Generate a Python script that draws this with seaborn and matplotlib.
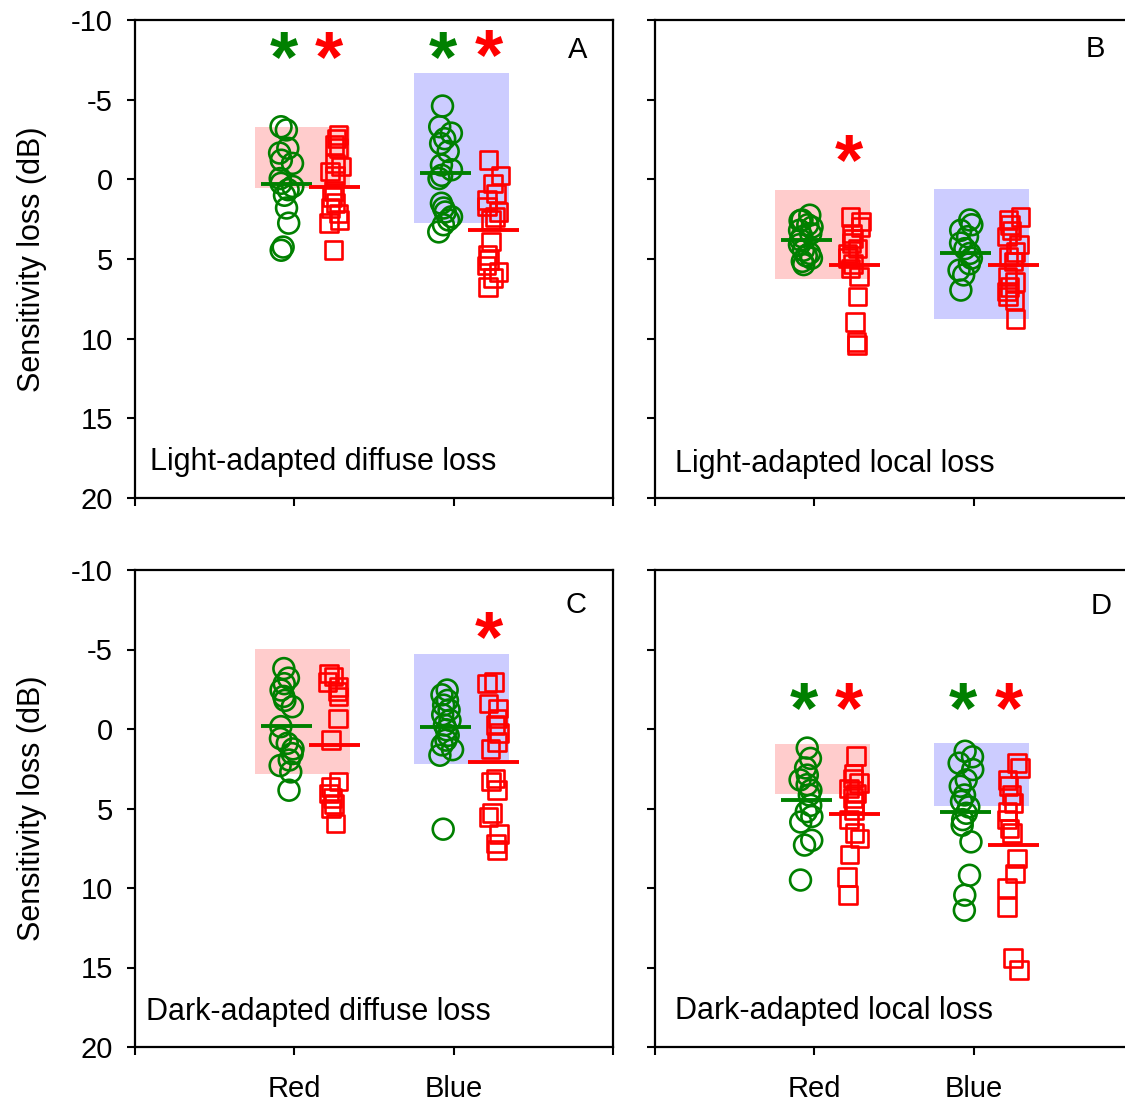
import numpy as np
import pandas as pd
import matplotlib
matplotlib.use("Agg")
import matplotlib.pyplot as plt
import matplotlib.transforms as mtransforms
import seaborn as sns

# ---------------- data (dB sensitivity loss) ----------------
categories = ["Red", "Blue"]
panel_ids = ["A", "B", "C", "D"]
panel_titles = ["Light-adapted diffuse loss", "Light-adapted local loss",
                "Dark-adapted diffuse loss", "Dark-adapted local loss"]

# circles (green) and squares (red) for Red and Blue stimuli
A_red_circ = [-3.3, -3.1, -1.95, -1.65, -1.2, -1.0, -0.05, 0.25, 0.45, 0.65, 1.0, 1.8, 2.75, 4.25, 4.45]
A_red_sq = [-2.8, -2.55, -2.15, -1.95, -1.0, -0.8, -0.5, -0.25, 0.75, 1.1, 1.5, 1.8, 2.15, 2.55, 2.75, 4.45]
A_blue_circ = [-4.6, -3.3, -2.9, -2.55, -2.25, -1.75, -0.9, -0.6, -0.25, -0.05,
               1.5, 1.8, 2.05, 2.35, 2.55, 2.85, 3.3]
A_blue_sq = [-1.2, -0.25, 0.25, 0.9, 1.3, 1.7, 2.05, 2.35, 2.55, 3.9, 4.75, 5.05, 5.4, 5.8, 6.2, 6.75]

B_red_circ = [2.25, 2.55, 2.6, 2.85, 3.0, 3.2, 3.4, 3.6, 3.8, 4.1, 4.45, 4.65, 4.8, 4.95, 5.15, 5.35]
B_red_sq = [2.35, 2.65, 3.0, 3.4, 3.7, 4.0, 4.35, 4.65, 4.95, 5.3, 5.6, 6.1, 7.35, 8.95, 10.2, 10.4]
B_blue_circ = [2.55, 2.85, 3.2, 3.6, 4.0, 4.35, 4.65, 4.95, 5.3, 5.7, 6.0, 6.95]
B_blue_sq = [2.35, 2.55, 2.85, 3.2, 3.6, 4.1, 4.55, 4.85, 5.15, 6.1, 6.45, 6.75, 7.05, 7.35, 7.6, 8.75]

C_red_circ = [-3.8, -3.2, -2.85, -2.45, -2.05, -1.8, -1.4, -0.15, 0.6, 0.9, 1.25, 1.55, 1.95, 2.3, 2.7, 3.85]
C_red_sq = [-3.5, -3.3, -2.95, -2.65, -2.35, -2.05, -0.65, 0.7, 3.3, 3.65, 4.05, 4.35, 4.7, 5.0, 5.95]
C_blue_circ = [-2.45, -2.15, -1.8, -1.5, -1.2, -0.9, -0.55, -0.25, 0.05, 0.4, 0.7, 1.0, 1.3, 1.65, 6.3]
C_blue_sq = [-2.95, -2.85, -1.6, -1.3, -0.65, -0.25, 0.25, 0.8, 1.25, 3.1, 3.3, 3.85, 5.3, 5.55, 6.6, 7.2, 7.6]

D_red_circ = [1.2, 1.85, 2.45, 2.9, 3.2, 3.5, 3.85, 4.15, 4.8, 5.2, 5.5, 5.85, 7.0, 7.3, 9.5]
D_red_sq = [1.7, 2.8, 3.1, 3.4, 3.75, 4.05, 4.35, 4.65, 5.1, 5.7, 6.55, 6.9, 7.9, 9.3, 10.45]
D_blue_circ = [1.4, 1.75, 2.15, 2.55, 3.2, 3.6, 4.15, 4.55, 4.9, 5.3, 5.7, 6.05, 7.1, 9.2, 10.45, 11.4]
D_blue_sq = [2.15, 2.45, 3.2, 3.6, 4.15, 4.65, 5.2, 5.7, 6.25, 6.55, 8.15, 9.1, 10.0, 11.2, 14.4, 15.15]

# group means (order: Red-circle, Red-square, Blue-circle, Blue-square)
A_means = [0.3, 0.45, -0.4, 3.2]
B_means = [3.8, 5.4, 4.6, 5.4]
C_means = [-0.2, 1.0, -0.1, 2.05]
D_means = [4.45, 5.35, 5.2, 7.3]

# normal ranges (shaded boxes) for Red and Blue stimuli
A_norm_low, A_norm_high = [-3.3, -6.7], [0.55, 2.75]
B_norm_low, B_norm_high = [0.7, 0.6], [6.25, 8.75]
C_norm_low, C_norm_high = [-5.05, -4.7], [2.85, 2.2]
D_norm_low, D_norm_high = [0.95, 0.85], [4.1, 4.85]

# significance asterisks
star_panel = ["A", "A", "A", "A", "B", "C", "D", "D", "D", "D"]
star_stim = ["Red", "Red", "Blue", "Blue", "Red", "Blue", "Red", "Red", "Blue", "Blue"]
star_group = ["circle", "square", "circle", "square", "square", "square",
              "circle", "square", "circle", "square"]
star_y = [-8.3, -8.3, -8.3, -8.4, -1.85, -6.4, -1.95, -1.95, -1.95, -1.95]

# ---------------- assemble ----------------
series = {
    "A": (A_red_circ, A_red_sq, A_blue_circ, A_blue_sq),
    "B": (B_red_circ, B_red_sq, B_blue_circ, B_blue_sq),
    "C": (C_red_circ, C_red_sq, C_blue_circ, C_blue_sq),
    "D": (D_red_circ, D_red_sq, D_blue_circ, D_blue_sq),
}
means = {"A": A_means, "B": B_means, "C": C_means, "D": D_means}
norms = {"A": (A_norm_low, A_norm_high), "B": (B_norm_low, B_norm_high),
         "C": (C_norm_low, C_norm_high), "D": (D_norm_low, D_norm_high)}

rows = []
for p, (rc, rs, bc, bs) in series.items():
    for stim, grp, vals in [("Red", "circle", rc), ("Red", "square", rs),
                            ("Blue", "circle", bc), ("Blue", "square", bs)]:
        for v in vals:
            rows.append({"panel": p, "stim": stim, "group": grp, "loss": v})
df = pd.DataFrame(rows)

cat_pos = {"Red": 1.0, "Blue": 2.0}
grp_off = {"circle": -0.05, "square": 0.25}
star_off = {"circle": -0.065, "square": 0.22}
grp_color = {"circle": "#008000", "square": "#FF0000"}
grp_marker = {"circle": "o", "square": "s"}
grp_size = {"circle": 225, "square": 160}
box_color = {"Red": "#FFCCCC", "Blue": "#CCCCFF"}

rng = np.random.default_rng(11)
df["xpos"] = [cat_pos[s] + grp_off[g] for s, g in zip(df["stim"], df["group"])]
df["xpos"] = df["xpos"] + rng.uniform(-0.045, 0.045, len(df))

# ---------------- style ----------------
sns.set_style("ticks")
plt.rcParams["font.family"] = ["Liberation Sans", "DejaVu Sans"]
plt.rcParams["axes.unicode_minus"] = False
for key in ["text.color", "axes.labelcolor", "xtick.color", "ytick.color", "axes.edgecolor"]:
    plt.rcParams[key] = "black"

W, H = 1125, 1102
fig = plt.figure(figsize=(W / 100, H / 100), dpi=100)
rects = {
    "A": [135 / W, 1 - 498 / H, 478 / W, 478 / H],
    "B": [655 / W, 1 - 498 / H, 478 / W, 478 / H],
    "C": [135 / W, 1 - 1047 / H, 478 / W, 477 / H],
    "D": [655 / W, 1 - 1047 / H, 478 / W, 477 / H],
}
letter_pos = {"A": (0.925, 0.937), "B": (0.922, 0.94), "C": (0.923, 0.927), "D": (0.933, 0.925)}
title_pos = {"A": (0.031, 0.075), "B": (0.042, 0.071), "C": (0.023, 0.073), "D": (0.042, 0.075)}

star_fs = 52
for i, p in enumerate(panel_ids):
    ax = fig.add_axes(rects[p])
    lo, hi = norms[p]
    for j, stim in enumerate(categories):
        ax.bar(cat_pos[stim] + 0.05, hi[j] - lo[j], bottom=lo[j], width=0.6,
               color=box_color[stim], linewidth=0, zorder=0)
    sub = df[df["panel"] == p]
    for stim in categories:
        for grp in ["circle", "square"]:
            d = sub[(sub["stim"] == stim) & (sub["group"] == grp)]
            sns.scatterplot(data=d, x="xpos", y="loss", ax=ax, marker=grp_marker[grp],
                            s=grp_size[grp], color="none", edgecolor=grp_color[grp],
                            linewidth=1.9, legend=False, zorder=3)
    m = means[p]
    k = 0
    for stim in categories:
        for grp in ["circle", "square"]:
            c = cat_pos[stim] + grp_off[grp]
            ax.hlines(m[k], c - 0.16, c + 0.16, color=grp_color[grp], lw=2.8, zorder=4)
            k += 1
    # asterisks
    offs = mtransforms.ScaledTranslation(0, -0.47 * star_fs / 72, fig.dpi_scale_trans)
    for sp, ss, sg, sy in zip(star_panel, star_stim, star_group, star_y):
        if sp != p:
            continue
        ax.text(cat_pos[ss] + star_off[sg], sy, "*", color=grp_color[sg], fontsize=star_fs,
                fontweight="bold", ha="center", va="baseline",
                transform=ax.transData + offs, zorder=5)
    ax.text(*letter_pos[p], p, transform=ax.transAxes, fontsize=21, ha="center", va="center")
    ax.text(*title_pos[p], panel_titles[i], transform=ax.transAxes, fontsize=22,
            ha="left", va="center")

    ax.set_xlim(0, 3)
    ax.set_ylim(20, -10)
    ax.set_yticks([-10, -5, 0, 5, 10, 15, 20])
    ax.set_xticks([0, 1, 2, 3])
    ax.set_xlabel("")
    ax.set_ylabel("")
    for s in ax.spines.values():
        s.set_linewidth(1.6)
        s.set_color("black")
    ax.tick_params(direction="out", length=6, width=1.5, colors="black", labelsize=21, pad=10)
    ax.tick_params(axis="x", labelsize=21, pad=14)
    if p in ("A", "C"):
        ax.set_yticklabels(["-10", "-5", "0", "5", "10", "15", "20"])
        ax.set_ylabel("Sensitivity loss (dB)", fontsize=22)
        ax.yaxis.set_label_coords(-0.185, 0.5)
    else:
        ax.tick_params(labelleft=False)
    if p in ("C", "D"):
        ax.set_xticklabels(["", "Red", "Blue", ""])
    else:
        ax.tick_params(labelbottom=False)

fig.savefig("out.png", dpi=100)
